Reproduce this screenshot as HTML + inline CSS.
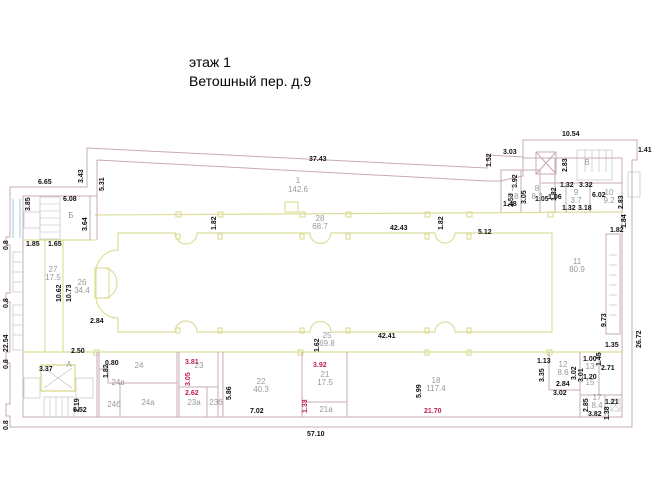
<!DOCTYPE html>
<html><head><meta charset="utf-8">
<style>
html,body{margin:0;padding:0;background:#fff;}
svg{display:block;}
.t{font-family:"Liberation Sans",sans-serif;font-size:7px;font-weight:bold;fill:#111;}
.r{font-family:"Liberation Sans",sans-serif;font-size:7px;font-weight:bold;fill:#c0204a;}
.g{font-family:"Liberation Sans",sans-serif;font-size:8px;fill:#999;}
.w{fill:none;stroke:#c8a8b8;stroke-width:1;}
.y{fill:none;stroke:#dede9a;stroke-width:1.2;}
.s{fill:none;stroke:#bbb;stroke-width:0.6;}
</style></head><body>
<svg width="653" height="489" viewBox="0 0 653 489" xmlns="http://www.w3.org/2000/svg">
<text x="189" y="67" font-family="Liberation Sans,sans-serif" font-size="14" fill="#000">этаж 1</text>
<text x="189" y="86" font-family="Liberation Sans,sans-serif" font-size="14" fill="#000">Ветошный пер. д.9</text>

<!-- outer outline -->
<polyline class="w" points="10,187 87,187 87,148 487,168 488,155 523,157 523,140 637,140 637,160 632,160 632,427 10,427 10,416 6,416 6,404 10,404 10,363 6,363 6,352 10,352 10,302 6,302 6,293 10,293 10,245 6,245 6,237 10,237 10,187"/>
<!-- inner outline -->
<polyline class="w" points="97,160 487,181 500,181 523,176 523,158 622,158 622,417 23,417 23,196 97,196 97,160"/>
<line class="w" x1="23" y1="250" x2="23" y2="417"/>
<!-- left glass -->
<line x1="13" y1="199" x2="13" y2="238" stroke="#9cd" stroke-width="1"/>
<line x1="20" y1="199" x2="20" y2="238" stroke="#9cd" stroke-width="1"/>
<!-- corridors (yellow) -->
<polyline class="y" points="95,215 622,212"/>
<polyline class="y" points="23,240 95,240"/>
<polyline class="y" points="23,352 622,352"/>
<line class="y" x1="45" y1="240" x2="45" y2="352"/>
<line class="y" x1="63" y1="240" x2="63" y2="352"/>
<!-- main hall -->
<path class="y" d="M118,233 L175,233 A11,11 0 0 0 197,233 L310,233 A10,10 0 0 0 331,233 L435,233 A10,10 0 0 0 455,233 L552,233 L552,332 L455,332 A10,10 0 0 0 435,332 L331,332 A10,10 0 0 0 310,332 L197,332 A11,11 0 0 0 175,332 L118,332 L118,318 A22,22 0 0 1 96,296 L96,272 A22,22 0 0 1 118,250 Z"/>
<rect class="y" x="95" y="268" width="14" height="30"/>
<path class="y" d="M104,268 A13,15 0 0 1 104,298"/>
<!-- small columns -->
<g class="y">
<rect x="176" y="212" width="5" height="5"/><rect x="218" y="212" width="5" height="5"/><rect x="300" y="212" width="5" height="5"/><rect x="346" y="212" width="5" height="5"/><rect x="425" y="212" width="5" height="5"/><rect x="467" y="212" width="5" height="5"/><rect x="548" y="212" width="5" height="5"/>
<rect x="176" y="234" width="4" height="5"/><rect x="218" y="234" width="4" height="5"/><rect x="300" y="234" width="4" height="5"/><rect x="346" y="234" width="4" height="5"/><rect x="425" y="234" width="4" height="5"/><rect x="467" y="234" width="4" height="5"/>
<rect x="176" y="328" width="4" height="5"/><rect x="218" y="328" width="4" height="5"/><rect x="300" y="328" width="4" height="5"/><rect x="346" y="328" width="4" height="5"/><rect x="425" y="328" width="4" height="5"/><rect x="467" y="328" width="4" height="5"/>
<rect x="94" y="350" width="5" height="5"/><rect x="298" y="350" width="5" height="5"/><rect x="425" y="350" width="4" height="5"/><rect x="467" y="350" width="4" height="5"/><rect x="547" y="350" width="5" height="5"/>
<rect x="285" y="202" width="13" height="10"/>
</g>
<!-- bottom rooms walls -->
<g class="w">
<line x1="97" y1="352" x2="97" y2="417"/><line x1="99" y1="352" x2="99" y2="417"/>
<line x1="177" y1="352" x2="177" y2="417"/><line x1="179" y1="352" x2="179" y2="417"/>
<line x1="218" y1="352" x2="218" y2="417"/><line x1="223" y1="352" x2="223" y2="417"/>
<line x1="302" y1="352" x2="302" y2="417"/><line x1="347" y1="352" x2="347" y2="417"/>
<line x1="179" y1="387" x2="218" y2="387"/><line x1="207" y1="387" x2="207" y2="417"/>
<line x1="302" y1="402" x2="347" y2="402"/>
<polyline points="99,369 108,369 108,383 120,383 120,417"/>
<line x1="120" y1="383" x2="177" y2="383"/>
<line x1="549" y1="352" x2="549" y2="390"/><line x1="549" y1="390" x2="580" y2="390"/>
<line x1="580" y1="352" x2="580" y2="417"/><line x1="599" y1="352" x2="599" y2="395"/>
<line x1="580" y1="395" x2="622" y2="395"/><line x1="605" y1="395" x2="605" y2="417"/>
<!-- upper right rooms -->
<polyline points="501,212 501,170 540,170 540,212"/>
<line x1="521" y1="170" x2="521" y2="212"/>
<line x1="555" y1="158" x2="555" y2="212"/>
<line x1="541" y1="183" x2="622" y2="183"/>
<line x1="590" y1="183" x2="590" y2="212"/>
<line x1="566" y1="183" x2="566" y2="212"/>
<rect x="536" y="152" width="20" height="22"/>
<line x1="536" y1="152" x2="556" y2="174"/><line x1="556" y1="152" x2="536" y2="174"/>
<!-- top-left -->
<line x1="97" y1="196" x2="97" y2="240"/><line x1="90" y1="196" x2="90" y2="240"/>
<!-- right stair -->
<rect x="606" y="234" width="14" height="100"/>
</g>
<!-- stairs -->
<g class="s">
<rect x="40" y="197" width="20" height="42"/>
<line x1="40" y1="204" x2="60" y2="204"/><line x1="40" y1="211" x2="60" y2="211"/><line x1="40" y1="218" x2="60" y2="218"/><line x1="40" y1="225" x2="60" y2="225"/><line x1="40" y1="232" x2="60" y2="232"/>
<rect x="24" y="212" width="16" height="16"/>
<rect x="13" y="252" width="10" height="40"/><rect x="13" y="305" width="10" height="45"/>
<line x1="13" y1="262" x2="23" y2="262"/><line x1="13" y1="272" x2="23" y2="272"/><line x1="13" y1="282" x2="23" y2="282"/><line x1="13" y1="315" x2="23" y2="315"/><line x1="13" y1="325" x2="23" y2="325"/><line x1="13" y1="335" x2="23" y2="335"/>
<rect x="24" y="378" width="16" height="20"/><rect x="76" y="378" width="17" height="20"/>
<rect x="44" y="397" width="30" height="20"/>
<line x1="50" y1="397" x2="50" y2="417"/><line x1="56" y1="397" x2="56" y2="417"/><line x1="62" y1="397" x2="62" y2="417"/><line x1="68" y1="397" x2="68" y2="417"/>
<rect x="577" y="150" width="35" height="30"/>
<line x1="585" y1="150" x2="585" y2="172"/><line x1="592" y1="150" x2="592" y2="172"/><line x1="599" y1="150" x2="599" y2="172"/><line x1="606" y1="150" x2="606" y2="172"/>
<rect x="628" y="172" width="12" height="25"/>
<line x1="609" y1="255" x2="617" y2="255"/><line x1="609" y1="265" x2="617" y2="265"/><line x1="609" y1="275" x2="617" y2="275"/><line x1="609" y1="285" x2="617" y2="285"/><line x1="609" y1="295" x2="617" y2="295"/><line x1="609" y1="305" x2="617" y2="305"/><line x1="609" y1="315" x2="617" y2="315"/>
</g>
<rect x="41" y="365" width="34" height="26" fill="none" stroke="#dede9a" stroke-width="1.5"/>
<line x1="44" y1="368" x2="72" y2="388" stroke="#bbb" stroke-width="0.6"/><line x1="72" y1="368" x2="44" y2="388" stroke="#bbb" stroke-width="0.6"/>
<rect x="611" y="399" width="9" height="12" fill="none" stroke="#bbb" stroke-width="0.6"/>
<line x1="611" y1="399" x2="620" y2="411" stroke="#bbb" stroke-width="0.6"/><line x1="620" y1="399" x2="611" y2="411" stroke="#bbb" stroke-width="0.6"/>

<!-- dimension labels -->
<g class="t">
<text x="38" y="184">6.65</text>
<text x="309" y="161">37.43</text>
<text x="503" y="154">3.03</text>
<text x="562" y="136">10.54</text>
<text x="638" y="152">1.41</text>
<text x="63" y="201">6.08</text>
<text x="26" y="246">1.85</text>
<text x="48" y="246">1.65</text>
<text x="90" y="323">2.84</text>
<text x="71" y="353">2.50</text>
<text x="39" y="371">3.37</text>
<text x="73" y="412">6.52</text>
<text x="105" y="365">0.80</text>
<text x="250" y="413">7.02</text>
<text x="478" y="234">5.12</text>
<text x="390" y="230">42.43</text>
<text x="378" y="338">42.41</text>
<text x="592" y="197">6.02</text>
<text x="579" y="187">3.32</text>
<text x="560" y="187">1.32</text>
<text x="578" y="210">3.18</text>
<text x="562" y="210">1.32</text>
<text x="503" y="206">1.48</text>
<text x="535" y="201">1.05</text>
<text x="548" y="199">1.06</text>
<text x="610" y="232">1.82</text>
<text x="605" y="347">1.35</text>
<text x="537" y="363">1.13</text>
<text x="583" y="361">1.00</text>
<text x="601" y="370">2.71</text>
<text x="583" y="379">1.20</text>
<text x="556" y="386">2.84</text>
<text x="553" y="395">3.02</text>
<text x="605" y="404">1.21</text>
<text x="588" y="416">3.82</text>
<text x="307" y="436">57.10</text>
</g>
<g class="r"><text x="185" y="364">3.81</text><text x="185" y="395">2.62</text><text x="313" y="367">3.92</text><text x="424" y="413">21.70</text></g>
<!-- vertical dims -->
<g class="t">
<text transform="translate(83,183) rotate(-90)">3.43</text>
<text transform="translate(104,191) rotate(-90)">5.31</text>
<text transform="translate(30,211) rotate(-90)">3.85</text>
<text transform="translate(87,231) rotate(-90)">3.64</text>
<text transform="translate(216,230) rotate(-90)">1.82</text>
<text transform="translate(443,230) rotate(-90)">1.82</text>
<text transform="translate(8,250) rotate(-90)">0.8</text>
<text transform="translate(8,308) rotate(-90)">0.8</text>
<text transform="translate(8,352) rotate(-90)">22.54</text>
<text transform="translate(8,369) rotate(-90)">0.8</text>
<text transform="translate(8,430) rotate(-90)">0.8</text>
<text transform="translate(61,302) rotate(-90)">10.62</text>
<text transform="translate(71,302) rotate(-90)">10.73</text>
<text transform="translate(108,378) rotate(-90)">1.82</text>
<text transform="translate(79,412) rotate(-90)">2.19</text>
<text transform="translate(231,400) rotate(-90)">5.86</text>
<text transform="translate(319,352) rotate(-90)">1.62</text>
<text transform="translate(421,398) rotate(-90)">5.99</text>
<text transform="translate(491,167) rotate(-90)">1.52</text>
<text transform="translate(513,207) rotate(-90)">2.53</text>
<text transform="translate(517,188) rotate(-90)">3.92</text>
<text transform="translate(526,204) rotate(-90)">3.05</text>
<text transform="translate(556,201) rotate(-90)">1.82</text>
<text transform="translate(567,172) rotate(-90)">2.83</text>
<text transform="translate(623,209) rotate(-90)">2.83</text>
<text transform="translate(626,228) rotate(-90)">1.84</text>
<text transform="translate(606,327) rotate(-90)">9.73</text>
<text transform="translate(641,348) rotate(-90)">26.72</text>
<text transform="translate(544,382) rotate(-90)">3.35</text>
<text transform="translate(576,380) rotate(-90)">3.02</text>
<text transform="translate(583,382) rotate(-90)">3.01</text>
<text transform="translate(601,366) rotate(-90)">1.45</text>
<text transform="translate(588,412) rotate(-90)">2.85</text>
<text transform="translate(609,420) rotate(-90)">1.38</text>
</g>
<g class="r"><text transform="translate(190,386) rotate(-90)">3.05</text><text transform="translate(307,413) rotate(-90)">1.33</text></g>
<!-- room labels -->
<g class="g" text-anchor="middle">
<text x="298" y="183">1</text><text x="298" y="192">142.6</text>
<text x="320" y="221">28</text><text x="320" y="229">68.7</text>
<text x="71" y="218">Б</text>
<text x="53" y="272">27</text><text x="53" y="280">17.5</text>
<text x="82" y="285">26</text><text x="82" y="293">34.4</text>
<text x="327" y="338">25</text><text x="327" y="346">69.8</text>
<text x="69" y="367">А</text>
<text x="139" y="368">24</text><text x="118" y="385">24в</text><text x="148" y="405">24а</text><text x="114" y="407">24б</text>
<text x="199" y="368">23</text><text x="194" y="405">23а</text><text x="216" y="405">23б</text>
<text x="261" y="384">22</text><text x="261" y="392">40.3</text>
<text x="325" y="377">21</text><text x="325" y="385">17.5</text><text x="326" y="412">21а</text>
<text x="436" y="383">18</text><text x="436" y="391">117.4</text>
<text x="563" y="367">12</text><text x="563" y="375">8.6</text>
<text x="590" y="369">13</text><text x="590" y="385">15</text>
<text x="597" y="400">17</text><text x="597" y="408">8.4</text>
<text x="577" y="264">11</text><text x="577" y="272">80.9</text>
<text x="513" y="191">7</text><text x="513" y="199">5.8</text>
<text x="537" y="191">8</text><text x="537" y="199">8.2</text>
<text x="576" y="195">9</text><text x="576" y="203">3.7</text>
<text x="609" y="195">10</text><text x="609" y="203">9.2</text>
<text x="587" y="165">В</text>
</g>
</svg>
</body></html>
